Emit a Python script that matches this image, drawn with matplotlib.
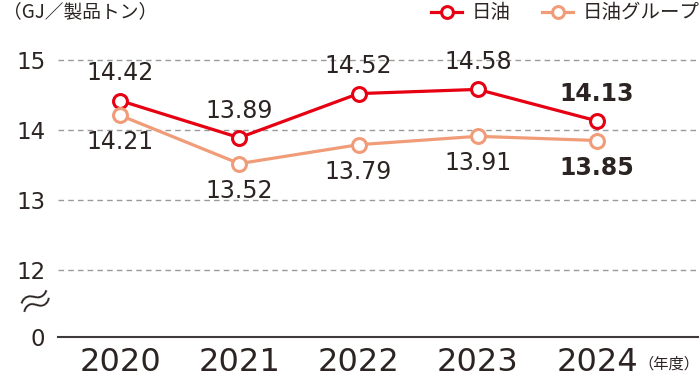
import matplotlib
matplotlib.use("Agg")
import matplotlib.pyplot as plt
import numpy as np

years = ["2020", "2021", "2022", "2023", "2024"]
nof = [14.42, 13.89, 14.52, 14.58, 14.13]
nof_group = [14.21, 13.52, 13.79, 13.91, 13.85]
series_names = ["日油", "日油グループ"]
unit_label = "（GJ／製品トン）"
year_unit = "（年度）"

RED = "#E60012"
ORANGE = "#F19C78"
TEXT = "#2b2422"
JP = ["Noto Sans CJK JP", "DejaVu Sans"]

plt.rcParams["font.family"] = ["DejaVu Sans", "Noto Sans CJK JP"]

# broken y axis: 12..15 drawn to scale, 0 sits just below 12
ZERO_POS = 12 - 67 / 70


def main():
    fig = plt.figure(figsize=(7.0, 3.83), dpi=100)
    ax = fig.add_axes([58 / 700, 46 / 383, 640 / 700, 297 / 383])

    x = np.arange(len(years))
    style = dict(marker="o", markersize=10, markerfacecolor="white",
                 markeredgewidth=2.2, linewidth=2.3, zorder=3)
    ax.plot(x, nof, color=RED, label=series_names[0], **style)
    ax.plot(x, nof_group, color=ORANGE, label=series_names[1], **style)

    for i, (a, b) in enumerate(zip(nof, nof_group)):
        w = "bold" if i == len(years) - 1 else "normal"
        ax.annotate(f"{a:.2f}", (i, a), xytext=(0, 14.5), textcoords="offset points",
                    ha="center", va="baseline", fontsize=17, color=TEXT, fontweight=w)
        ax.annotate(f"{b:.2f}", (i, b), xytext=(0, -24.5), textcoords="offset points",
                    ha="center", va="baseline", fontsize=17, color=TEXT, fontweight=w)

    for v in [12, 13, 14, 15]:
        ax.axhline(v, color="#9a9a9a", linewidth=1, linestyle=(0, (4, 3)), zorder=1)

    ax.set_xlim(-0.52, 4.847)
    ax.set_ylim(ZERO_POS, 15 + 20 / 70)
    ax.set_yticks([ZERO_POS, 12, 13, 14, 15])
    ax.set_yticklabels(["0", "12", "13", "14", "15"])
    ax.set_xticks(x)
    ax.set_xticklabels(years)
    ax.tick_params(axis="y", length=0, pad=9, labelsize=16.5, labelcolor=TEXT)
    ax.tick_params(axis="x", length=0, pad=7, labelsize=23, labelcolor=TEXT)

    for s in ["top", "right", "left"]:
        ax.spines[s].set_visible(False)
    ax.spines["bottom"].set_color("#3e3a39")
    ax.spines["bottom"].set_linewidth(1.5)

    # break mark between 12 and 0
    fig.text(35 / 700, 1 - 302 / 383, "≈", fontsize=28, color=TEXT,
             ha="center", va="center", rotation=18, fontweight="light")

    fig.text(3 / 700, 1 - 12 / 383, unit_label, family=JP, fontsize=13.5,
             color=TEXT, ha="left", va="center")
    fig.text(699 / 700, 1 - 364 / 383, year_unit, family=JP, fontsize=11,
             color=TEXT, ha="right", va="center")

    leg = ax.legend(loc="center right", bbox_to_anchor=(1.0, 1 - 13 / 383),
                    bbox_transform=fig.transFigure, ncol=2, frameon=False,
                    prop={"family": JP, "size": 14}, handlelength=1.6,
                    handletextpad=0.5, columnspacing=1.6, borderaxespad=0,
                    borderpad=0, markerscale=0.85)
    for t in leg.get_texts():
        t.set_color(TEXT)

    fig.savefig("out.png", dpi=100)


if __name__ == "__main__":
    main()
